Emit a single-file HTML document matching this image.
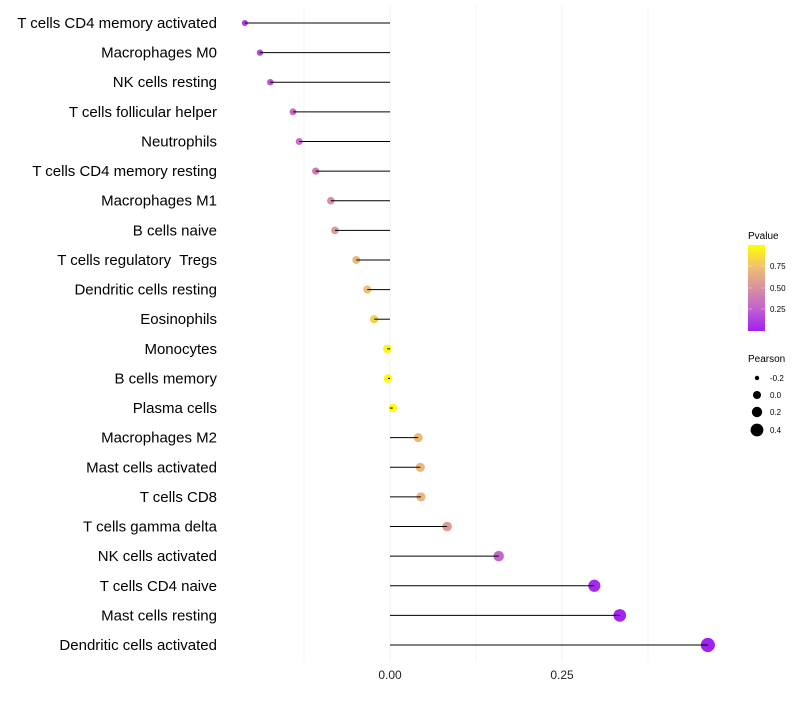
<!DOCTYPE html>
<html><head><meta charset="utf-8"><style>
body{margin:0;background:#fff;font-family:"Liberation Sans",sans-serif}
svg text{font-family:"Liberation Sans",sans-serif;white-space:pre}
</style></head><body>
<svg id="chart" width="800" height="700">
<defs><linearGradient id="pg" x1="0" y1="1" x2="0" y2="0">
<stop offset="0" stop-color="#a020f0"/><stop offset="0.25" stop-color="#c060d0"/>
<stop offset="0.5" stop-color="#d890a0"/><stop offset="0.75" stop-color="#f0c070"/>
<stop offset="1" stop-color="#ffff00"/></linearGradient></defs>
<g id="grid"></g><g id="marks"></g><g id="labels"></g><g id="xaxis"></g>
<g>
<text x="748" y="239" font-size="10">Pvalue</text>
<rect x="748" y="245" width="17" height="86" fill="url(#pg)"/>
<g stroke="#fff" stroke-width="0.6" opacity="0.6"><line x1="748" x2="752" y1="266" y2="266"/><line x1="761" x2="765" y1="266" y2="266"/><line x1="748" x2="752" y1="288" y2="288"/><line x1="761" x2="765" y1="288" y2="288"/><line x1="748" x2="752" y1="309" y2="309"/><line x1="761" x2="765" y1="309" y2="309"/></g>
<text x="770" y="269" font-size="8">0.75</text><text x="770" y="291" font-size="8">0.50</text><text x="770" y="312" font-size="8">0.25</text>
</g>
<g>
<text x="748" y="362" font-size="10">Pearson</text>
<circle cx="757" cy="378" r="2.2" fill="#000"/><text x="770" y="381" font-size="8">-0.2</text>
<circle cx="757" cy="395" r="4" fill="#000"/><text x="770" y="398" font-size="8">0.0</text>
<circle cx="757" cy="412" r="5.2" fill="#000"/><text x="770" y="415" font-size="8">0.2</text>
<circle cx="757" cy="430" r="6.4" fill="#000"/><text x="770" y="433" font-size="8">0.4</text>
</g>
</svg>
<script>
const cells=["T cells CD4 memory activated","Macrophages M0","NK cells resting","T cells follicular helper","Neutrophils","T cells CD4 memory resting","Macrophages M1","B cells naive","T cells regulatory  Tregs","Dendritic cells resting","Eosinophils","Monocytes","B cells memory","Plasma cells","Macrophages M2","Mast cells activated","T cells CD8","T cells gamma delta","NK cells activated","T cells CD4 naive","Mast cells resting","Dendritic cells activated"];
const pearson=[-0.211,-0.189,-0.174,-0.141,-0.132,-0.108,-0.086,-0.080,-0.049,-0.033,-0.023,-0.004,-0.003,0.004,0.041,0.044,0.045,0.083,0.158,0.297,0.334,0.462];
const pvalue=[0.1,0.15,0.2,0.3,0.32,0.4,0.5,0.55,0.7,0.75,0.82,0.97,0.98,0.98,0.72,0.7,0.7,0.55,0.27,0.04,0.02,0.002];
const xTicks=[0,0.25];
const xTickLabels=["0.00","0.25"];
const NS="http://www.w3.org/2000/svg";
const xS=v=>390+v*688;
const yS=i=>23+i*(645-23)/21;
const rS=v=>Math.max(1.8,4.3+6*v);
const stops=[[0,[160,32,240]],[0.25,[192,96,208]],[0.5,[216,144,160]],[0.75,[240,192,112]],[1,[255,255,0]]];
function col(p){for(let k=1;k<stops.length;k++){if(p<=stops[k][0]){const a=stops[k-1],b=stops[k],t=(p-a[0])/(b[0]-a[0]);return "rgb("+a[1].map((c,j)=>Math.round(c+(b[1][j]-c)*t)).join(",")+")";}}return "rgb(255,255,0)";}
function mk(t,at,par){const e=document.createElementNS(NS,t);for(const k in at)e.setAttribute(k,at[k]);document.getElementById(par).appendChild(e);return e;}
[-0.125,0,0.125,0.25,0.375].forEach(v=>{const g=mk("line",{x1:xS(v),x2:xS(v),y1:5,y2:662,stroke:v%0.25===0?"#f0f0f0":"#f5f5f5","stroke-width":1},"grid");

});
cells.forEach((c,i)=>{
const y=yS(i);
const t=mk("text",{x:217,y:y+5,"font-size":15,"text-anchor":"end",fill:"#000"},"labels");t.textContent=c;


const pt=mk("circle",{cx:xS(pearson[i]),cy:y,r:rS(pearson[i]),fill:col(pvalue[i])},"marks");


const ln=mk("line",{x1:xS(0),x2:xS(pearson[i]),y1:y,y2:y,stroke:"#000","stroke-width":1},"marks");


});
xTicks.forEach((v,i)=>{const t=mk("text",{x:xS(v),y:679,"font-size":12,"text-anchor":"middle",fill:"#222"},"xaxis");t.textContent=xTickLabels[i];

});
</script>
</body></html>
